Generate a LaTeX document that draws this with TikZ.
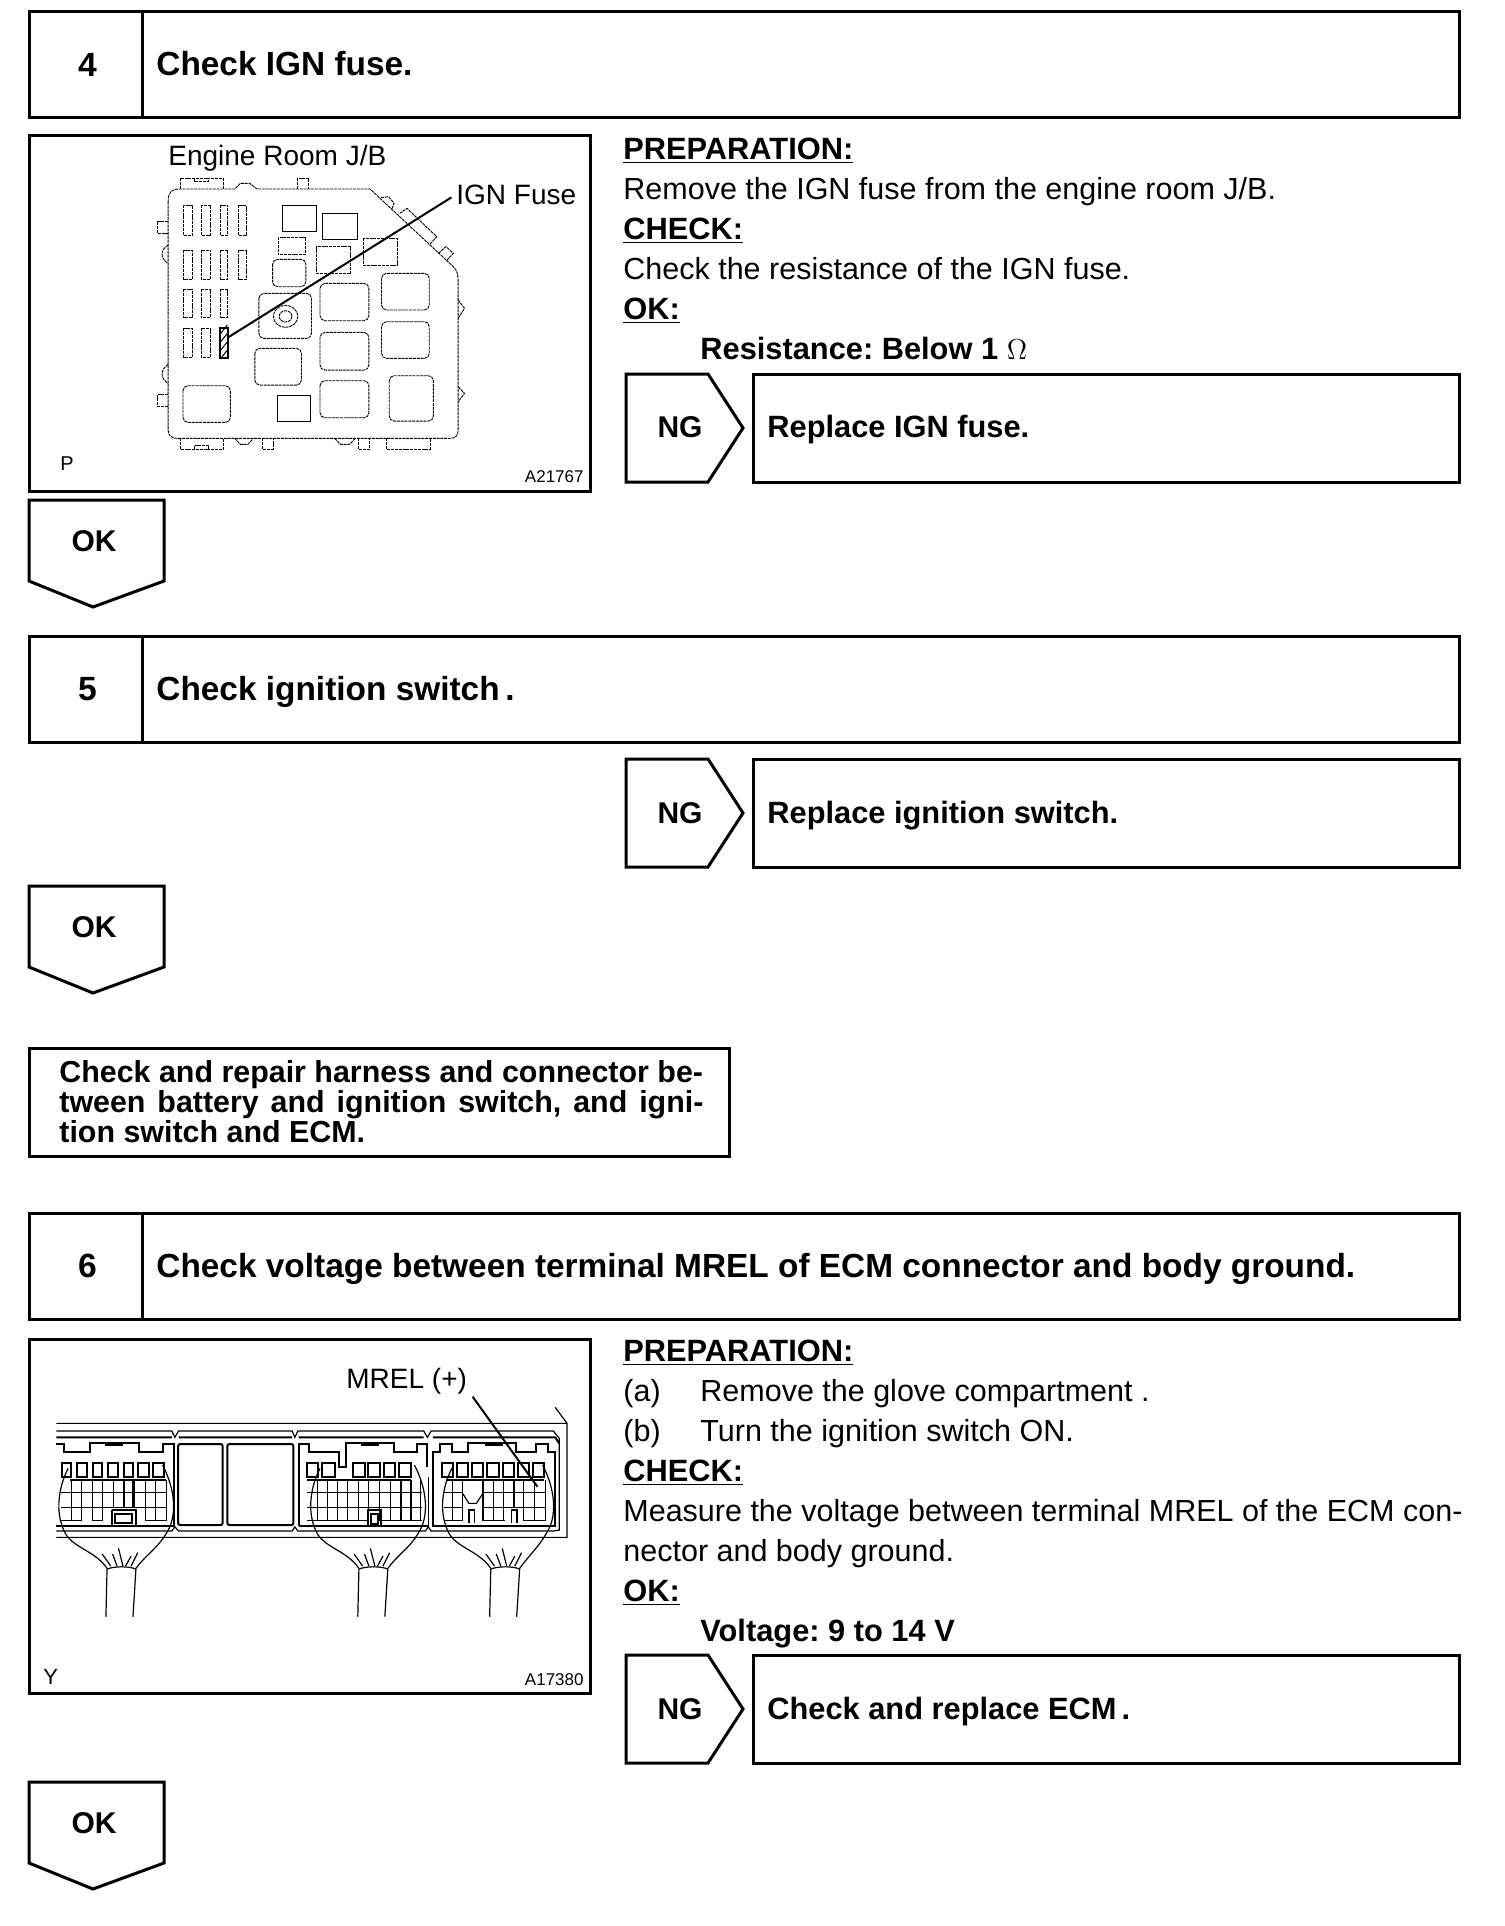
\documentclass[tikz,border=0pt]{standalone}
\usepackage{fontspec}
\setmainfont{Liberation Sans}
\usetikzlibrary{arrows.meta,positioning,calc}
\frenchspacing
\tikzset{
  boxline/.style={line width=1.5pt, line join=miter},
  numbox/.style={draw, boxline, minimum width=56.5pt, minimum height=53pt, inner sep=0pt, font=\fontsize{16.8}{16.8}\selectfont\bfseries},
  titlebox/.style={draw, boxline, minimum width=658.75pt, minimum height=53pt, inner sep=0pt},
  actbox/.style={draw, boxline, minimum width=353.25pt, minimum height=54pt, inner sep=0pt},
  picbox/.style={draw, boxline, minimum width=280.5pt, inner sep=0pt},
  tagtext/.style={inner sep=0pt, font=\fontsize{15}{15}\selectfont\bfseries},
  titletext/.style={anchor=base west, inner sep=0pt, font=\fontsize{16.7}{16.7}\selectfont\bfseries},
  boldtext/.style={anchor=base west, inner sep=0pt, font=\fontsize{15.4}{15.4}\selectfont\bfseries},
  harnesstext/.style={anchor=base west, inner sep=0pt, font=\fontsize{15.2}{15.2}\selectfont\bfseries},
  bodytext/.style={anchor=base west, inner sep=0pt, font=\fontsize{15.25}{15.25}\selectfont},
  pictext/.style={anchor=base west, inner sep=0pt, font=\fontsize{14}{14}\selectfont},
  smalltext/.style={inner sep=0pt, font=\fontsize{8.5}{8.5}\selectfont},
  jbline/.style={line width=0.45pt, dash pattern=on 1.5pt off 0.4pt},
  jbrelay/.style={jbline, rounded corners=2.5pt},
  ecmline/.style={line width=0.6pt},
  ecmheavy/.style={line width=1pt},
  leader/.style={line width=1pt}
}
\begin{document}
\begin{tikzpicture}[x=0.5pt,y=-0.5pt]
  \useasboundingbox (0,0) rectangle (1504,1926);
  % step headers
  \node[numbox] (numfour) at (85.5,65) {\hspace*{2pt}4};
  \node[titlebox] (titlefour) at (800.75,65) {};
  \node[titletext] (textfour) at (156,76) {Check IGN fuse.};
  \node[numbox] (numfive) at (85.5,689) {\hspace*{2pt}5};
  \node[titlebox] (titlefive) at (800.75,689) {};
  \node[titletext] (textfive) at (156,700) {Check ignition switch\,.};
  \node[numbox] (numsix) at (85.5,1266) {\hspace*{2pt}6};
  \node[titlebox] (titlesix) at (800.75,1266) {};
  \node[titletext] (textsix) at (156,1277) {Check voltage between terminal MREL of ECM connector and body ground.};
  % NG tags and their boxes
  \foreach \y in {374,759,1655} {
    \draw[boxline] (626,\y) -- (708,\y) -- (743,\y+54) -- (708,\y+108) -- (626,\y+108) -- cycle;
  }
  \node[tagtext] (ngone) at (680,427) {NG};
  \node[tagtext] (ngtwo) at (680,813) {NG};
  \node[tagtext] (ngthree) at (680,1709) {NG};
  \node[actbox] (actone) at (1106.25,428) {};
  \node[actbox] (acttwo) at (1106.25,813) {};
  \node[actbox] (actthree) at (1106.25,1709) {};
  \node[boldtext] (actonetext) at (767,437) {Replace IGN fuse.};
  \node[boldtext] (acttwotext) at (767,823) {Replace ignition switch.};
  \node[boldtext] (actthreetext) at (767,1719) {Check and replace ECM\,.};
  % OK tags
  \foreach \y in {500,886,1782} {
    \draw[boxline] (29,\y) -- (164,\y) -- (164,\y+81) -- (93,\y+107) -- (29,\y+81) -- cycle;
  }
  \node[tagtext] (okone) at (94,541) {OK};
  \node[tagtext] (oktwo) at (94,927) {OK};
  \node[tagtext] (okthree) at (94,1823) {OK};
  % harness box
  \node[draw, boxline, minimum width=350pt, minimum height=54pt, inner sep=0pt] (harness) at (379.5,1102) {};
  \node[harnesstext] (harnessa) at (59,1082) {Check and repair harness and connector be-};
  \node[harnesstext] (harnessb) at (59,1112) {\hbox to 322pt{tween battery and ignition switch, and igni-}};
  \node[harnesstext] (harnessc) at (59,1142) {tion switch and ECM.};
  % step 4 text
  \node[boldtext] (prepa) at (623,159.5) {\underline{PREPARATION:}};
  \node[bodytext] (prepb) at (623,199.5) {Remove the IGN fuse from the engine room J/B.};
  \node[boldtext] (checka) at (623,239.5) {\underline{CHECK:}};
  \node[bodytext] (checkb) at (623,279.5) {Check the resistance of the IGN fuse.};
  \node[boldtext] (oka) at (623,319.5) {\underline{OK:}};
  \node[boldtext] (okb) at (700,359) {Resistance: Below 1 $\Omega$};
  % step 6 text
  \node[boldtext] (prepc) at (623,1361) {\underline{PREPARATION:}};
  \node[bodytext] (prepd) at (623,1401) {(a)};
  \node[bodytext] (prepe) at (700,1401) {Remove the glove compartment .};
  \node[bodytext] (prepf) at (623,1441) {(b)};
  \node[bodytext] (prepg) at (700,1441) {Turn the ignition switch ON.};
  \node[boldtext] (checkc) at (623,1481) {\underline{CHECK:}};
  \node[bodytext] (checkd) at (623,1521) {Measure the voltage between terminal MREL of the ECM con-};
  \node[bodytext] (checke) at (623,1561) {nector and body ground.};
  \node[boldtext] (okc) at (623,1601) {\underline{OK:}};
  \node[boldtext] (okd) at (700,1641) {Voltage: 9 to 14 V};
  % engine room J/B picture
  \node[picbox, minimum height=177.5pt] (jbbox) at (309.5,313.5) {};
  \node[pictext] (jbname) at (168,166) {Engine Room J/B};
  \node[pictext] (jbfuse) at (456,205) {IGN Fuse};
  \node[smalltext, anchor=base west, font=\fontsize{10}{10}\selectfont] (jbmark) at (60,470) {P};
  \node[smalltext, anchor=base east] (jbcode) at (584,482) {A21767};
  \begin{scope}[shift={(20,125)},x=0.1852pt,y=-0.1667pt]
    \draw[jbline] (400,230) .. controls (400,200) and (410,192) .. (430,192) -- (580,192) -- (595,175) -- (620,175) -- (640,192) -- (945,192) -- (1170,425) .. controls (1180,435) and (1183,450) .. (1183,470) -- (1183,915) .. controls (1183,932) and (1175,940) .. (1160,940) -- (425,940) .. controls (410,940) and (400,932) .. (400,915) -- cycle;
    \draw[jbline] (432,192) -- (432,160) -- (548,160) -- (548,192) (470,160) -- (470,168) -- (510,168) -- (510,160);
    \draw[jbline] (750,192) -- (750,160) -- (780,160) -- (780,192);
    \draw[jbline] (975,218) -- (995,215) -- (1010,235) -- (1003,255);
    \draw[jbline] (1025,265) -- (1045,250) -- (1125,335) -- (1105,360) (1130,385) -- (1150,365) -- (1170,385) -- (1150,408);
    \draw[jbline] (400,288) -- (372,288) -- (372,325) -- (400,325);
    \draw[jbline] (400,360) .. controls (378,375) and (378,400) .. (400,415);
    \draw[jbline] (400,718) .. controls (378,735) and (378,760) .. (400,775);
    \draw[jbline] (400,808) -- (370,808) -- (370,843) -- (400,843);
    \draw[jbline] (1183,525) -- (1200,550) -- (1183,580) (1183,785) -- (1200,805) -- (1183,830);
    \draw[jbline] (432,940) -- (432,972) -- (548,972) -- (548,940) (470,972) -- (470,962) -- (510,962) -- (510,972);
    \draw[jbline] (580,940) -- (595,958) -- (615,958) -- (630,940);
    \draw[jbline] (655,940) -- (655,972) -- (683,972) -- (683,940);
    \draw[jbline] (850,940) -- (865,958) -- (890,958) -- (905,940);
    \draw[jbline] (913,940) -- (913,972) -- (943,972) -- (943,940);
    \draw[jbline] (990,940) -- (990,972) -- (1107,972) -- (1107,940);
    % fuse rows
    \foreach \a/\b in {240/330,375/462} {
      \foreach \l/\r in {442/465,490/514,542/561,590/612} {
        \draw[jbline] (\l,\a) rectangle (\r,\b);
      }
    }
    \foreach \a/\b in {492/578,610/697} {
      \foreach \l/\r in {442/465,490/514,542/561} {
        \draw[jbline] (\l,\a) rectangle (\r,\b);
      }
    }
    \fill[white] (538,607) rectangle (563,700);
    \draw[line width=1pt] (540,609) rectangle (561,698);
    \foreach \y in {625,650,675,700} {
      \draw[line width=0.5pt] (542,\y) -- (560,\y-25);
    }
    % relays
    \draw[line width=0.5pt] (710,240) rectangle (800,320);
    \draw[line width=0.5pt] (818,265) rectangle (912,342);
    \draw[jbline] (697,337) rectangle (770,388);
    \draw[jbline] (800,365) rectangle (893,445);
    \draw[jbline] (928,340) rectangle (1020,422);
    \draw[line width=0.5pt] (695,810) rectangle (785,890);
    \foreach \l/\t/\r/\b in {682/403/772/485,810/475/942/587,976/445/1105/555,976/590/1105/700,645/505/787/640,810/622/942/735,634/670/760/780,440/782/568/892,810/767/942/878,997/752/1116/888} {
      \draw[jbrelay] (\l,\t) rectangle (\r,\b);
    }
    \draw[jbline] (717,574) ellipse [x radius=33, y radius=33];
    \draw[jbline] (717,574) ellipse [x radius=17, y radius=17];
    \coordinate (jbfrom) at (562,637);
    \coordinate (jbto) at (1165,217);
    \draw[leader] (jbfrom) -- (jbto);
  \end{scope}
  % ECM connector picture
  \node[picbox, minimum height=177pt] (ecmbox) at (309.5,1516.5) {};
  \node[pictext] (ecmname) at (346,1388) {MREL (+)};
  \node[smalltext, anchor=base west, font=\fontsize{11}{11}\selectfont] (ecmmark) at (43,1684) {Y};
  \node[smalltext, anchor=base east] (ecmcode) at (584,1685) {A17380};
  \begin{scope}[shift={(20,1330)},x=0.1852pt,y=-0.1667pt]
    % housing
    \draw[ecmline] (98,280) -- (1477,280) -- (1477,622) -- (98,622) (1445,232) -- (1477,280);
    \draw[ecmline] (98,303) -- (410,303) -- (418,322) -- (428,303) -- (735,303) -- (742,322) -- (750,303) -- (1090,303) -- (1100,322) -- (1110,303) -- (1440,303) -- (1456,325) -- (1456,600) -- (1440,603) -- (1110,603) -- (1102,590) -- (1095,603) -- (750,603) -- (742,590) -- (735,603) -- (428,603) -- (418,590) -- (410,603) -- (98,603);
    \draw[ecmheavy] (98,322) -- (410,322) (428,322) -- (735,322) (752,322) -- (1090,322) (1115,322) -- (1445,322) -- (1456,340);
    % covers between the connectors
    \draw[ecmheavy, rounded corners=1pt] (427,342) rectangle (547,585);
    \draw[ecmheavy, rounded corners=1pt] (560,342) rectangle (738,585);
    % connector outlines
    \draw[ecmheavy] (98,342) -- (120,342) -- (120,367) -- (188,367) -- (188,338) -- (320,338) -- (320,367) -- (385,367) -- (385,342) -- (415,342) -- (415,588) -- (98,588);
    \draw[ecmheavy] (752,588) -- (752,342) -- (780,342) -- (780,367) -- (862,367) -- (862,410) -- (880,410) -- (880,338) -- (1010,338) -- (1010,367) -- (1073,367) -- (1073,342) -- (1100,342) -- (1100,410);
    \draw[ecmline] (752,588) -- (1102,588) -- (1102,440);
    \draw[ecmheavy] (1115,588) -- (1115,365) -- (1135,365) -- (1135,342) -- (1165,342) -- (1165,367) -- (1210,367) -- (1210,338) -- (1340,338) -- (1340,367) -- (1393,367) -- (1393,342) -- (1425,342) -- (1425,367) -- (1445,367) -- (1445,588) -- cycle;
    \draw[ecmheavy] (230,345) -- (278,345) (920,345) -- (970,345) (1255,345) -- (1303,345);
    % terminal pins
    \foreach \l/\r in {113/138,155/182,197/222,238/265,280/305,318/348,360/390,775/805,815/850,900/932,940/972,982/1012,1022/1055,1140/1168,1180/1210,1220/1250,1262/1292,1305/1333,1345/1375,1385/1415} {
      \draw[ecmheavy] (\l,398) rectangle (\r,440);
    }
    % terminal grids
    \draw[line width=1.2pt] (135,450) -- (395,450) (775,450) -- (1055,450) (1150,450) -- (1415,450);
    \foreach \y in {488,532} {
      \draw[ecmline] (112,\y) -- (395,\y) (775,\y) -- (1085,\y) (1145,\y) -- (1195,\y) (1250,\y) -- (1418,\y);
    }
    \draw[ecmline] (112,572) -- (167,572) (197,572) -- (222,572) (338,572) -- (395,572) (775,572) -- (940,572) (975,572) -- (1085,572) (1145,572) -- (1195,572) (1250,572) -- (1310,572) (1360,572) -- (1418,572);
    \foreach \x in {140,167,195,222,252,308,338,366,395} {
      \draw[ecmline] (\x,450) -- (\x,532);
    }
    \foreach \x in {140,167,195,222,338,366,395} {
      \draw[ecmline] (\x,532) -- (\x,572);
    }
    \foreach \x in {803,830,858,885,913,940,970,1000,1082} {
      \draw[ecmline] (\x,450) -- (\x,572);
    }
    \foreach \x in {1168,1195,1250,1278,1305,1360,1390,1418} {
      \draw[ecmline] (\x,450) -- (\x,572);
    }
    \draw[line width=1.2pt] (280,450) -- (280,532) (305,450) -- (305,532) (1028,450) -- (1028,572) (1055,450) -- (1055,572) (1333,450) -- (1333,532);
    \draw[ecmline] (1195,490) -- (1212,520) -- (1232,520) -- (1250,490);
    \draw[ecmline] (1212,580) -- (1212,540) -- (1228,540) -- (1228,580) (1328,580) -- (1328,540) -- (1342,540) -- (1342,580);
    % keys
    \draw[ecmheavy] (248,540) -- (312,540) -- (312,585) (248,585) -- (248,540);
    \draw[ecmheavy] (257,552) rectangle (303,580);
    \draw[ecmheavy] (940,585) -- (940,540) -- (975,540) -- (975,585);
    \draw[ecmheavy] (948,552) rectangle (966,582);
    % wire bundles
    \foreach \x/\w in {0/0,680/0,1036/-10} {
      \draw[ecmline] (130+\x,415) .. controls (100+\x,480) and (95+\x,560) .. (125+\x,615) .. controls (150+\x,655) and (205+\x,665) .. (235+\x,715);
      \draw[ecmline] (385+\x+\w,405) .. controls (420+\x+\w,480) and (425+\x+\w,560) .. (395+\x+\w,610) .. controls (375+\x+\w,650) and (335+\x,680) .. (313+\x,715);
      \draw[ecmline] (235+\x,717) .. controls (255+\x,708) and (295+\x,708) .. (313+\x,717);
      \draw[ecmline] (235+\x,717) -- (232+\x,860) (313+\x,717) -- (305+\x,860);
      \draw[ecmline] (222+\x,672) -- (245+\x,708) (250+\x,672) -- (262+\x,708) (266+\x,655) -- (278+\x,708) (300+\x,678) -- (285+\x,708) (318+\x,668) -- (300+\x,708);
    }
    \coordinate (ecmfrom) at (1222,200);
    \coordinate (ecmto) at (1397,470);
    \draw[leader] (ecmfrom) -- (ecmto);
  \end{scope}
\end{tikzpicture}
\end{document}
